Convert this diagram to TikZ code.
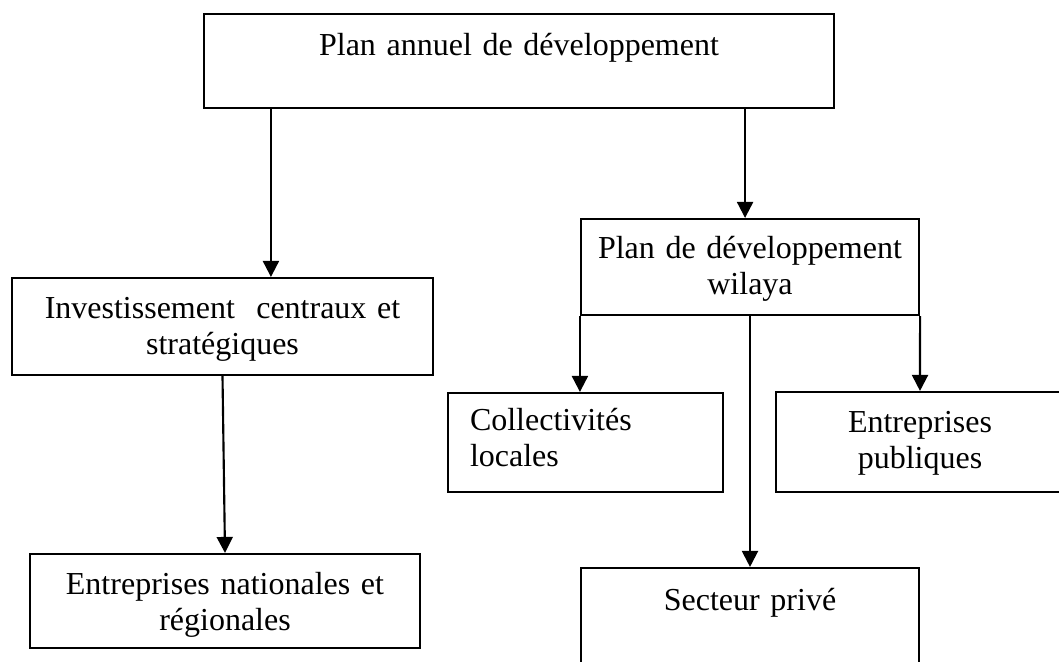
\documentclass[tikz,border=0pt]{standalone}
\usepackage{fontspec}
\setmainfont{Liberation Serif}
\usetikzlibrary{arrows.meta}
\tikzset{
  caja/.style={draw, line width=0.8pt, inner sep=0pt, anchor=base, align=center,
    font=\fontsize{12}{13.8}\selectfont},
  flecha/.style={line width=0.8pt, -{Triangle[width=6pt,length=6pt]}}
}
\begin{document}
\begin{tikzpicture}[x=0.375pt, y=-0.375pt] %Organigramme du plan
    \useasboundingbox (0,0) rectangle (1059,661);

    % cadres
    \node[caja, text width=236.25pt, text height=15.375pt, text depth=19.875pt] (plan) at (519,55) {Plan annuel de développement};
    \node[caja, text width=157.875pt, text height=15pt, text depth=21.375pt] (inv) at (222.5,318) {Investissement\ \ centraux et\\ stratégiques};
    \node[caja, text width=126.75pt, text height=14.625pt, text depth=21.375pt] (wil) at (750,258) {Plan de développement\\ wilaya};
    \node[caja, align=left, inner xsep=8.25pt, text width=86.625pt, text height=13.875pt, text depth=23.25pt] (col) at (585.5,430) {Collectivités\\ locales};
    \node[caja, text width=108pt, text height=15pt, text depth=22.5pt] (pub) at (920,432) {Entreprises\\ publiques};
    \node[caja, text width=146.25pt, text height=15pt, text depth=20.25pt] (nat) at (225,594) {Entreprises nationales et\\ régionales};
    \node[caja, text width=126.75pt, text height=15.75pt, text depth=33.75pt] (sec) at (750,610) {Secteur privé};

    % flèches
    \draw[flecha] (plan.south west) ++(68,0) coordinate (a1) -- (a1 |- inv.north);
    \draw[flecha] (plan.south east) ++(-90,0) coordinate (a2) -- (a2 |- wil.north);
    \draw[flecha] (inv.south) -- (nat.north);
    \draw[flecha] (wil.south west) -- (wil.south west |- col.north);
    \draw[flecha] (wil.south) -- (sec.north);
    \draw[flecha] (wil.south east) -- (pub.north);
\end{tikzpicture}
\end{document}
